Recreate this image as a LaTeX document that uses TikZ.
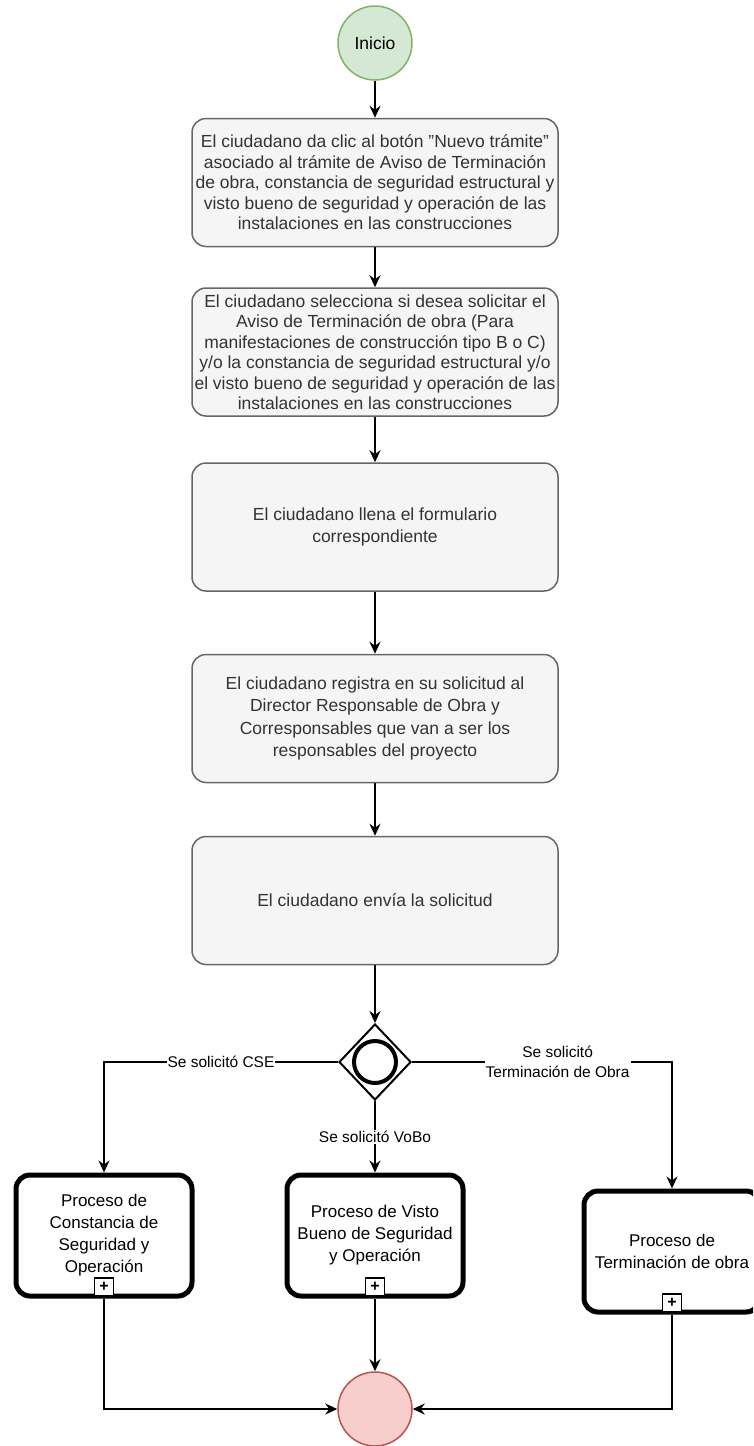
\documentclass[tikz,border=0pt]{standalone}
\usepackage{fontspec}
\setmainfont{Liberation Sans}
\usetikzlibrary{shapes.geometric,arrows.meta}
\definecolor{boxfill}{HTML}{F5F5F5}
\definecolor{boxdraw}{HTML}{666666}
\definecolor{boxtext}{HTML}{333333}
\definecolor{startfill}{HTML}{D5E8D4}
\definecolor{startdraw}{HTML}{82B366}
\definecolor{endfill}{HTML}{F8CECC}
\definecolor{enddraw}{HTML}{B85450}
\begin{document}
\begin{tikzpicture}[x=1pt,y=-1pt,
  stepbox/.style={draw=boxdraw, fill=boxfill, line width=1.5pt, rounded corners=14pt,
    minimum width=366pt, minimum height=128pt, align=center, text=boxtext,
    font=\fontsize{17.5}{20.5}\selectfont, inner sep=0pt},
  widebox/.style={stepbox, font=\fontsize{17.5}{22.5}\selectfont},
  procbox/.style={draw=black, fill=white, line width=5pt, rounded corners=14pt,
    minimum width=176pt, minimum height=121pt, align=center, text=black,
    font=\fontsize{17}{22}\selectfont, inner sep=0pt},
  plusbox/.style={draw=black, fill=white, line width=1.2pt, minimum width=19pt,
    minimum height=18pt, inner sep=0pt, anchor=south, font=\fontsize{16}{16}\selectfont\bfseries},
  lbl/.style={fill=white, text=black, font=\fontsize{15.5}{20}\selectfont, inner sep=1pt, align=center},
  conn/.style={line width=1.8pt, -{Stealth[length=12pt,width=11pt,inset=4pt]}}
]
\useasboundingbox (0,0) rectangle (753,1446);
\clip (0,0) rectangle (753,1446);

\node[circle, draw=startdraw, fill=startfill, line width=1.5pt, minimum size=74pt, inner sep=0pt,
  font=\fontsize{17.5}{20}\selectfont] (start) at (375,43) {Inicio};

\node[stepbox] (b1) at (375,182.5) {El ciudadano da clic al botón \symbol{34}Nuevo trámite\symbol{34}\\
asociado al trámite de Aviso de Terminación\\
de obra, constancia de seguridad estructural y\\
visto bueno de seguridad y operación de las\\
instalaciones en las construcciones};

\node[stepbox] (b2) at (375,352) {El ciudadano selecciona si desea solicitar el\\
Aviso de Terminación de obra (Para\\
manifestaciones de construcción tipo B o C)\\
y/o la constancia de seguridad estructural y/o\\
el visto bueno de seguridad y operación de las\\
instalaciones en las construcciones};

\node[widebox] (b3) at (375,527) {El ciudadano llena el formulario\\ correspondiente};

\node[widebox] (b4) at (375,718.5) {El ciudadano registra en su solicitud al\\
Director Responsable de Obra y\\
Corresponsables que van a ser los\\
responsables del proyecto};

\node[widebox] (b5) at (375,900.5) {El ciudadano envía la solicitud};

\node[diamond, draw=black, fill=white, line width=2pt, minimum width=72pt, minimum height=76pt,
  inner sep=0pt] (gw) at (375,1062) {};
\draw[line width=4pt] (gw.center) circle (21pt);

\node[procbox] (p1) at (104,1235.5) {Proceso de\\ Constancia de\\ Seguridad y\\ Operación};
\node[procbox] (p2) at (375,1235.5) {Proceso de Visto\\ Bueno de Seguridad\\ y Operación};
\node[procbox] (p3) at (672,1251.5) {Proceso de\\ Terminación de obra};

\node[plusbox] (m1) at ([yshift=2pt]p1.south) {+};
\node[plusbox] (m2) at ([yshift=2pt]p2.south) {+};
\node[plusbox] (m3) at ([yshift=2pt]p3.south) {+};

\node[circle, draw=enddraw, fill=endfill, line width=1.5pt, minimum size=74pt, inner sep=0pt] (end) at (375,1409) {};

\draw[conn] (start) -- (b1);
\draw[conn] (b1) -- (b2);
\draw[conn] (b2) -- (b3);
\draw[conn] (b3) -- (b4);
\draw[conn] (b4) -- (b5);
\draw[conn] (b5) -- (gw.north);

\coordinate (cl) at (104,1062);
\coordinate (cr) at (672,1062);
\draw[conn] (gw.west) -- node[lbl]{Se solicitó CSE} (cl) -- (p1.north);
\draw[conn] (gw.south) -- node[lbl]{Se solicitó VoBo} (p2.north);
\draw[conn] (gw.east) -- node[lbl, pos=0.56]{Se solicitó\\ Terminación de Obra} (cr) -- (p3.north);

\draw[conn] (p1.south) |- (end.west);
\draw[conn] (p2.south) -- (end.north);
\draw[conn] (p3.south) |- (end.east);
\end{tikzpicture}
\end{document}
